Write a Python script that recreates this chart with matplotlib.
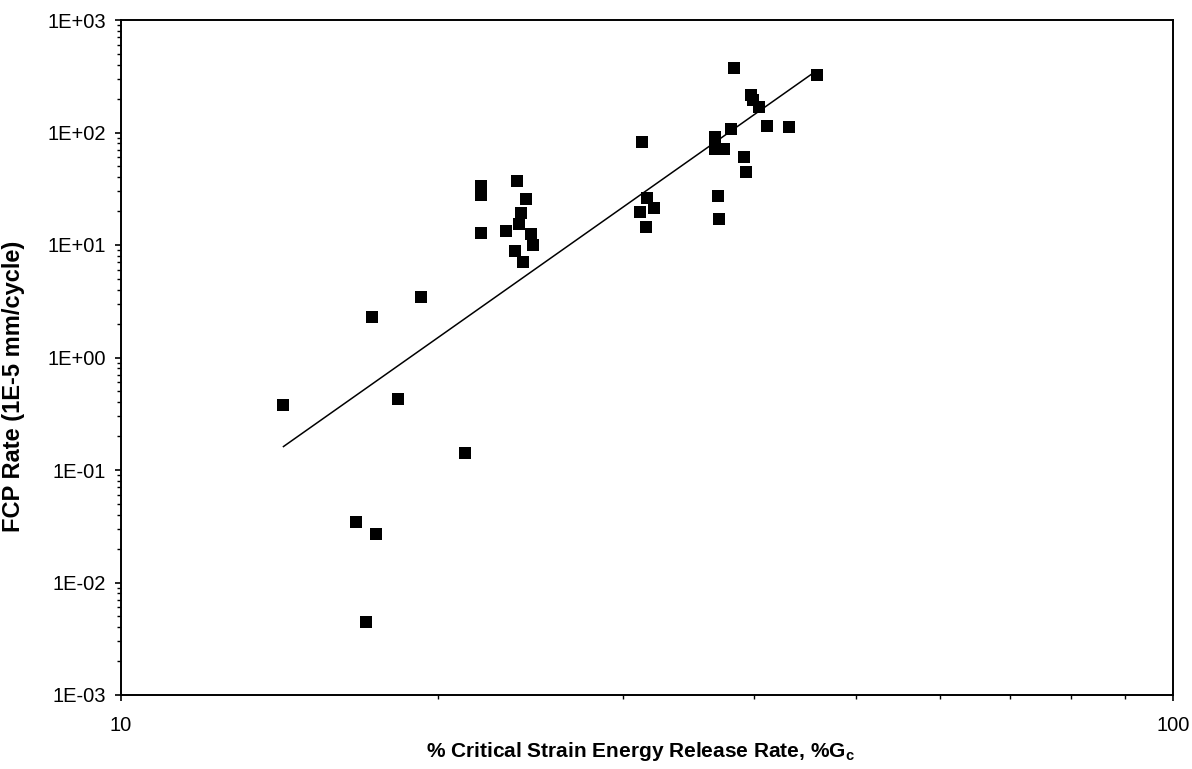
import numpy as np
import matplotlib.pyplot as plt
from matplotlib.ticker import LogLocator, FuncFormatter, NullFormatter

plt.rcParams['font.family'] = ['Liberation Sans', 'DejaVu Sans']
plt.rcParams['mathtext.fontset'] = 'custom'
plt.rcParams['mathtext.rm'] = 'Liberation Sans'
plt.rcParams['mathtext.bf'] = 'Liberation Sans:bold'

# %Gc vs FCP rate (1E-5 mm/cycle)
pct_gc = [14.27, 17.31, 19.27, 18.35, 21.21, 16.71, 17.46, 17.08,
          21.97, 21.97, 21.98, 23.79, 24.29, 24.01, 23.92, 23.24,
          24.52, 24.65, 23.71, 24.10,
          38.27, 31.30, 39.70, 39.90, 40.43, 38.04, 41.08, 43.12,
          36.71, 36.71, 37.44, 39.14, 39.31, 36.95, 37.03,
          31.64, 32.10, 31.12, 31.53, 45.83]
fcp_rate = [0.378, 2.30, 3.45, 0.425, 0.142, 0.0347, 0.0272, 0.00442,
            33.7, 28.1, 12.85, 36.9, 25.5, 19.3, 15.45, 13.4,
            12.4, 10.1, 8.83, 7.11,
            375, 82.4, 216, 195, 170, 107.4, 113.3, 111,
            91.8, 71.4, 71.8, 60.6, 44.3, 27.5, 17.1,
            26.2, 21.4, 19.7, 14.4, 325]

# power-law trendline end points
trend_x = [14.27, 45.8]
trend_y = [0.1616, 353]

fig = plt.figure(figsize=(11.92, 7.69), dpi=100)
ax = fig.add_axes([121 / 1192, 1 - 695 / 769, (1173 - 121) / 1192, (695 - 20) / 769])

ax.plot(pct_gc, fcp_rate, 's', color='black', markersize=8, markeredgewidth=0)
ax.plot(trend_x, trend_y, '-', color='black', linewidth=1.1)

ax.set_xscale('log')
ax.set_yscale('log')
ax.set_xlim(10, 100)
ax.set_ylim(1e-3, 1e3)

ax.yaxis.set_major_locator(LogLocator(base=10, numticks=10))
ax.yaxis.set_minor_locator(LogLocator(base=10, subs=np.arange(2, 10), numticks=10))
ax.yaxis.set_major_formatter(FuncFormatter(lambda v, p: '1E%+03d' % round(np.log10(v))))
ax.yaxis.set_minor_formatter(NullFormatter())
ax.xaxis.set_major_locator(LogLocator(base=10, numticks=5))
ax.xaxis.set_minor_locator(LogLocator(base=10, subs=np.arange(2, 10), numticks=5))
ax.xaxis.set_major_formatter(FuncFormatter(lambda v, p: '%d' % round(v)))
ax.xaxis.set_minor_formatter(NullFormatter())

ax.tick_params(axis='both', which='major', direction='out', length=4, width=1.2,
               labelsize=14.5, color='black')
ax.tick_params(axis='both', which='minor', direction='out', length=2.8, width=1.0)
ax.tick_params(axis='x', which='major', pad=11)
ax.tick_params(axis='y', which='major', pad=7)

for s in ax.spines.values():
    s.set_linewidth(1.4)
    s.set_color('black')

fig.text(14 / 1192, 1 - 386 / 769, 'FCP Rate (1E-5 mm/cycle)', rotation=90,
         ha='center', va='center', fontsize=17, fontweight='bold')
fig.text(640 / 1192, 1 - 757 / 769, r'% Critical Strain Energy Release Rate, %G$_\mathbf{c}$',
         ha='center', va='baseline', fontsize=15, fontweight='bold')

fig.savefig('out.png', dpi=100)
